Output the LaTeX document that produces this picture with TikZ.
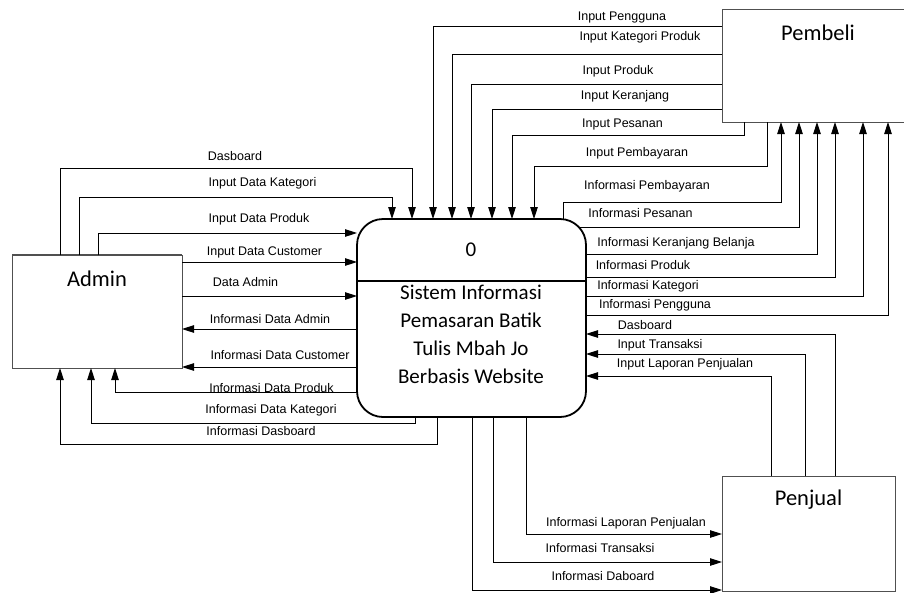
\documentclass[tikz,border=0pt]{standalone}
\usepackage{fontspec}
\setmainfont{Liberation Sans}
\newfontfamily\calib{Carlito}
\usepackage{tikz}
\usetikzlibrary{shapes,arrows,positioning,calc,arrows.meta}

\definecolor{boxgray}{RGB}{80,80,80}

\begin{document}
\begin{tikzpicture}[x=1pt,y=-1pt,
  entity/.style={rectangle, draw=boxgray, line width=1pt, fill=white, outer sep=0pt, inner sep=0pt},
  proc/.style={rectangle, draw, line width=1.8pt, rounded corners=26pt, fill=white, outer sep=0pt, inner sep=0pt},
  enttext/.style={font=\calib\fontsize{22.5}{26}\selectfont, inner sep=0pt},
  proctext/.style={font=\calib\fontsize{21}{28}\selectfont, inner sep=0pt, align=center},
  flow/.style={draw, line width=0.9pt, -{Triangle[length=12pt,width=7.5pt]}},
  lbl/.style={font=\fontsize{12.5}{14}\selectfont, inner sep=0pt, text height=9pt, text depth=2.5pt}]

  \useasboundingbox (0,0) rectangle (904,592);
  \clip (0,0) rectangle (904,592);

  % external entities and the process
  \node [entity, minimum width=170, minimum height=113] (admin) at (97,311.5) {};
  \node [entity, minimum width=192, minimum height=113] (pembeli) at (818,65.5) {};
  \node [entity, minimum width=173, minimum height=115] (penjual) at (808.5,533.5) {};
  \node [proc, minimum width=229, minimum height=198] (proc) at (471.5,318) {};
  \draw [boxgray, line width=2pt] (admin.north west) -- (admin.north east);
  \draw [line width=2.5pt] (proc.west |- 0,281) -- (proc.east |- 0,281);

  \node [enttext, below=16pt of admin.north] (admintxt) {Admin};
  \node [enttext, below=16pt of pembeli.north] (pembelitxt) {Pembeli};
  \node [enttext, below=14pt of penjual.north] (penjualtxt) {Penjual};
  \node [proctext] (procnum) at (471,250) {0};
  \node [proctext] (procname) at (471,334) {Sistem Informasi\\Pemasaran Batik\\Tulis Mbah Jo\\Berbasis Website};

  % Admin <-> proses
  \draw [flow] (admin.north -| 60,0) |- (412,168) -- (proc.north -| 412,0);
  \draw [flow] (admin.north -| 79,0) |- (392,197) -- (proc.north -| 392,0);
  \draw [flow] (admin.north -| 98,0) |- (proc.west |- 0,233);
  \draw [flow] (admin.east |- 0,262) -- (proc.west |- 0,262);
  \draw [flow] (admin.east |- 0,296) -- (proc.west |- 0,296);
  \draw [flow] (proc.west |- 0,329) -- (admin.east |- 0,329);
  \draw [flow] (proc.west |- 0,367) -- (admin.east |- 0,367);
  \draw [flow] (proc.west |- 0,392) -| (admin.south -| 115,0);
  \draw [flow] (proc.south -| 415,0) |- (91,423) -- (admin.south -| 91,0);
  \draw [flow] (proc.south -| 437,0) |- (60,444) -- (admin.south -| 60,0);

  \node [lbl] (aDas) at (235,157) {Dasboard};
  \node [lbl] (aKat) at (262.5,183) {Input Data Kategori};
  \node [lbl] (aPro) at (259,219) {Input Data Produk};
  \node [lbl] (aCus) at (264.5,252) {Input Data Customer};
  \node [lbl] (aAdm) at (245.5,283) {Data Admin};
  \node [lbl] (iAdm) at (270,320) {Informasi Data Admin};
  \node [lbl] (iCus) at (280,356) {Informasi Data Customer};
  \node [lbl] (iPro) at (271.5,389) {Informasi Data Produk};
  \node [lbl] (iKat) at (271,410) {Informasi Data Kategori};
  \node [lbl] (iDas) at (261,432) {Informasi Dasboard};

  % Pembeli <-> proses
  \draw [flow] (pembeli.west |- 0,26) -| (proc.north -| 433,0);
  \draw [flow] (pembeli.west |- 0,54) -| (proc.north -| 452,0);
  \draw [flow] (pembeli.west |- 0,84) -| (proc.north -| 471,0);
  \draw [flow] (pembeli.west |- 0,109) -| (proc.north -| 492,0);
  \draw [flow] (pembeli.south -| 744,0) |- (512,135) -- (proc.north -| 512,0);
  \draw [flow] (pembeli.south -| 767,0) |- (534,166) -- (proc.north -| 534,0);
  \draw [flow] (proc.north -| 563,0) |- (781,202) -- (pembeli.south -| 781,0);
  \draw [flow] ($(proc.east |- 0,227)+(-7,0)$) -| (pembeli.south -| 799,0);
  \draw [flow] (proc.east |- 0,254) -| (pembeli.south -| 817,0);
  \draw [flow] (proc.east |- 0,277) -| (pembeli.south -| 835,0);
  \draw [flow] (proc.east |- 0,296) -| (pembeli.south -| 863,0);
  \draw [flow] (proc.east |- 0,315) -| (pembeli.south -| 888,0);

  \node [lbl] (pUser) at (622,17) {Input Pengguna};
  \node [lbl] (pKat) at (640,37) {Input Kategori Produk};
  \node [lbl] (pPro) at (618,71) {Input Produk};
  \node [lbl] (pKer) at (625,96) {Input Keranjang};
  \node [lbl] (pPes) at (622.5,124) {Input Pesanan};
  \node [lbl] (pBay) at (637,153) {Input Pembayaran};
  \node [lbl] (qBay) at (647,186) {Informasi Pembayaran};
  \node [lbl] (qPes) at (640.5,214) {Informasi Pesanan};
  \node [lbl] (qKer) at (676,243) {Informasi Keranjang Belanja};
  \node [lbl] (qPro) at (643,266) {Informasi Produk};
  \node [lbl] (qKat) at (648,286) {Informasi Kategori};
  \node [lbl] (qUser) at (655,305) {Informasi Pengguna};

  % Penjual <-> proses
  \draw [flow] (penjual.north -| 835,0) |- (proc.east |- 0,334);
  \draw [flow] (penjual.north -| 805,0) |- (proc.east |- 0,354);
  \draw [flow] (penjual.north -| 771,0) |- (proc.east |- 0,376);
  \draw [flow] (proc.south -| 526,0) |- (penjual.west |- 0,534);
  \draw [flow] (proc.south -| 493,0) |- (penjual.west |- 0,562);
  \draw [flow] (proc.south -| 472,0) |- (penjual.west |- 0,590);

  \node [lbl] (sDas) at (645,326) {Dasboard};
  \node [lbl] (sTrx) at (660,345) {Input Transaksi};
  \node [lbl] (sLap) at (685,364) {Input Laporan Penjualan};
  \node [lbl] (tLap) at (626,523) {Informasi Laporan Penjualan};
  \node [lbl] (tTrx) at (600,549) {Informasi Transaksi};
  \node [lbl] (tDas) at (603,577) {Informasi Daboard};
\end{tikzpicture}
\end{document}
